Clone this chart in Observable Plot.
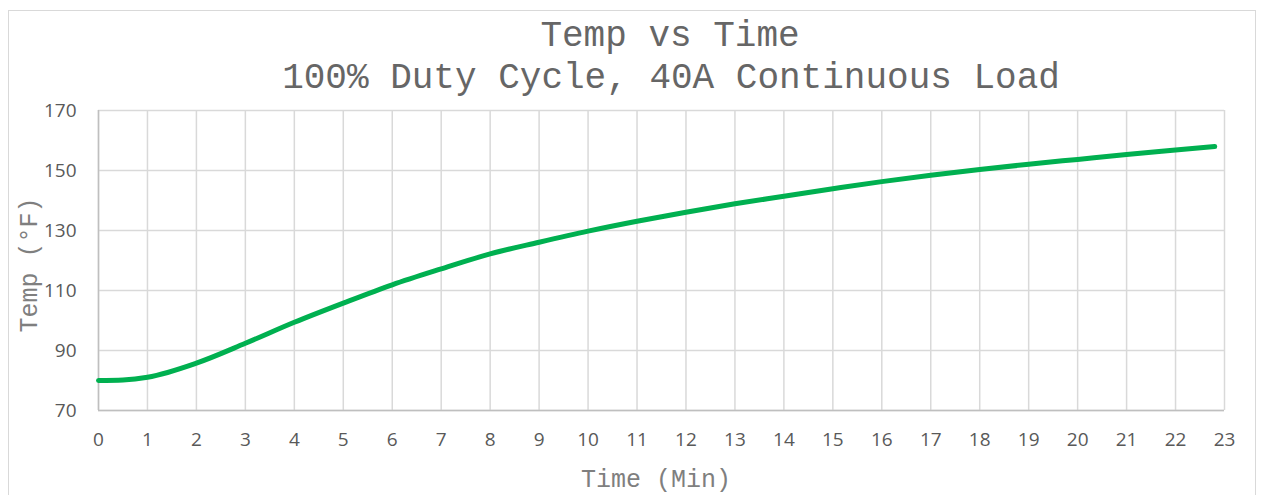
<!DOCTYPE html>
<html>
<head>
<meta charset="utf-8">
<script src="https://cdn.jsdelivr.net/npm/d3@7"></script>
<script src="https://cdn.jsdelivr.net/npm/@observablehq/plot@0.6"></script>
<style>
  html, body { margin: 0; padding: 0; background: #fff; }
  #wrap { position: relative; width: 1261px; height: 495px; overflow: hidden; }
  #border { position: absolute; left: 8px; top: 10px; width: 1248px; height: 500px; border: 1.5px solid #d9d9d9; box-sizing: border-box; }
  .mono { position: absolute; font-family: "Liberation Mono", "DejaVu Sans Mono", monospace; color: #666666; white-space: nowrap; }
  #title { left: 670px; top: 17px; transform: translateX(-50%); font-size: 36px; line-height: 40px; }
  #subtitle { left: 671px; top: 59px; transform: translateX(-50%); font-size: 36px; line-height: 40px; }
  #xlabel { left: 656px; top: 468px; transform: translateX(-50%); font-size: 25px; line-height: 25px; color: #7f7f7f; }
  #ylabel { left: 31px; top: 265px; transform: translate(-50%, -50%) rotate(-90deg); font-size: 25px; line-height: 28px; color: #7f7f7f; }
  #chart { position: absolute; left: 0; top: 0; }
</style>
</head>
<body>
<div id="wrap">
  <div id="border"></div>
  <div id="chart"></div>
  <div class="mono" id="title">Temp vs Time</div>
  <div class="mono" id="subtitle">100% Duty Cycle, 40A Continuous Load</div>
  <div class="mono" id="xlabel">Time (Min)</div>
  <div class="mono" id="ylabel">Temp (°F)</div>
</div>
<script>
const timeMin = [0, 0.5, 1, 2, 3, 4, 5, 6, 7, 8, 9, 10, 11, 12, 13, 14, 15, 16, 17, 18, 19, 20, 21, 22, 22.8];
const tempF   = [80, 80.2, 81.1, 85.8, 92.4, 99.4, 105.8, 111.9, 117.2, 122.2, 126.1, 129.8, 133.1, 136.1, 138.9, 141.4, 143.9, 146.3, 148.4, 150.3, 152.1, 153.7, 155.3, 156.8, 158];
const xTicks = d3.range(0, 24);
const yTicks = [70, 90, 110, 130, 150, 170];

const data = timeMin.map((t, i) => ({t, v: tempF[i]}));

const chart = Plot.plot({
  width: 1261,
  height: 495,
  marginLeft: 98,
  marginRight: 37,
  marginTop: 110,
  marginBottom: 85,
  style: {background: "transparent", fontFamily: "'Open Sans', sans-serif", fontSize: "19px", color: "#595959"},
  x: {domain: [0, 23], ticks: xTicks},
  y: {domain: [70, 170], ticks: yTicks},
  marks: [
    Plot.gridX(xTicks, {stroke: "#d9d9d9", strokeOpacity: 1, strokeWidth: 1.5}),
    Plot.gridY(yTicks, {stroke: "#d9d9d9", strokeOpacity: 1, strokeWidth: 1.5}),
    Plot.ruleX([0], {stroke: "#bfbfbf", strokeWidth: 1.5}),
    Plot.ruleY([70], {stroke: "#bfbfbf", strokeWidth: 1.5}),
    Plot.axisX({ticks: xTicks, tickSize: 0, tickPadding: 22, label: null, fill: "#595959", fontSize: 19}),
    Plot.axisY({ticks: yTicks, tickSize: 0, tickPadding: 22, label: null, fill: "#595959", fontSize: 19}),
    Plot.line(data, {x: "t", y: "v", stroke: "#00b050", strokeWidth: 5, curve: "monotone-x", strokeLinecap: "round", strokeLinejoin: "round"})
  ]
});
document.getElementById("chart").appendChild(chart);
</script>
</body>
</html>
